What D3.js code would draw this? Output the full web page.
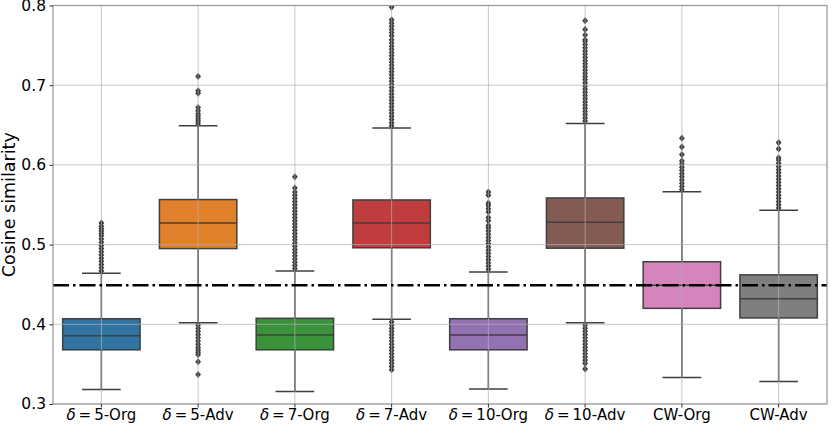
<!DOCTYPE html>
<html lang="en">
  <head>
    <meta charset="UTF-8" />
    <title>Cosine similarity boxplot</title>
    <style>
      body { margin: 0; background: #fff; }
      text { font-family: "DejaVu Sans", sans-serif; }
    </style>
  </head>
  <body>
    <svg width="831" height="427"></svg>

    <script src="https://d3js.org/d3.v7.min.js"></script>
    <script>
      // categories and box statistics
      var categories = ["d5org", "d5adv", "d7org", "d7adv", "d10org", "d10adv", "cworg", "cwadv"];
      var labelDelta = ["5-Org", "5-Adv", "7-Org", "7-Adv", "10-Org", "10-Adv", null, null];
      var labelPlain = [null, null, null, null, null, null, "CW-Org", "CW-Adv"];
      var colors = ["#3274a1", "#e1812c", "#3a923a", "#c03d3e", "#9372b2", "#845b53", "#d684bd", "#7f7f7f"];

      var q1 = [0.368, 0.495, 0.368, 0.496, 0.368, 0.4955, 0.420, 0.408];
      var median = [0.3855, 0.527, 0.3865, 0.527, 0.3865, 0.528, 0.449, 0.432];
      var q3 = [0.407, 0.5565, 0.4075, 0.556, 0.407, 0.5585, 0.4785, 0.462];
      var whiskLo = [0.3183, 0.402, 0.3157, 0.4063, 0.3187, 0.402, 0.3333, 0.3283];
      var whiskHi = [0.464, 0.649, 0.4668, 0.6463, 0.4655, 0.652, 0.5662, 0.543];

      var outliers = [
        [0.467, 0.471, 0.475, 0.479, 0.483, 0.487, 0.491, 0.495, 0.499, 0.503, 0.507, 0.511,
         0.514, 0.517, 0.520, 0.523, 0.527],
        [0.652, 0.655, 0.658, 0.661, 0.664, 0.668, 0.672, 0.690, 0.693, 0.711,
         0.399, 0.395, 0.391, 0.387, 0.383, 0.379, 0.375, 0.371, 0.368, 0.365, 0.362, 0.353, 0.337],
        [0.470, 0.474, 0.478, 0.482, 0.486, 0.490, 0.494, 0.498, 0.502, 0.506, 0.510, 0.514,
         0.518, 0.522, 0.526, 0.530, 0.534, 0.538, 0.542, 0.546, 0.550, 0.554, 0.558, 0.562,
         0.566, 0.571, 0.585],
        [0.649, 0.653, 0.657, 0.661, 0.665, 0.669, 0.673, 0.677, 0.681, 0.685, 0.689, 0.693,
         0.697, 0.701, 0.705, 0.709, 0.713, 0.717, 0.721, 0.725, 0.729, 0.733, 0.737, 0.741,
         0.745, 0.749, 0.753, 0.757, 0.762, 0.766, 0.770, 0.774, 0.778, 0.782, 0.798,
         0.403, 0.399, 0.395, 0.391, 0.387, 0.383, 0.379, 0.375, 0.371, 0.367, 0.363, 0.359,
         0.355, 0.351, 0.347, 0.343],
        [0.469, 0.473, 0.477, 0.481, 0.485, 0.489, 0.493, 0.497, 0.501, 0.505, 0.509, 0.513,
         0.517, 0.521, 0.524, 0.530, 0.534, 0.541, 0.545, 0.549, 0.552, 0.562, 0.566],
        [0.655, 0.659, 0.663, 0.667, 0.671, 0.675, 0.679, 0.683, 0.687, 0.691, 0.695, 0.699,
         0.703, 0.707, 0.711, 0.715, 0.719, 0.723, 0.727, 0.731, 0.735, 0.739, 0.743, 0.747,
         0.751, 0.755, 0.757, 0.763, 0.770, 0.781,
         0.399, 0.395, 0.391, 0.387, 0.383, 0.379, 0.375, 0.371, 0.367, 0.363, 0.359, 0.355,
         0.351, 0.344],
        [0.569, 0.573, 0.577, 0.581, 0.585, 0.589, 0.593, 0.597, 0.601, 0.605, 0.613, 0.6225, 0.6335],
        [0.546, 0.550, 0.554, 0.558, 0.562, 0.566, 0.570, 0.574, 0.578, 0.582, 0.586, 0.590,
         0.594, 0.598, 0.602, 0.606, 0.609, 0.620, 0.628]
      ];

      var yTicks = [0.3, 0.4, 0.5, 0.6, 0.7, 0.8];
      var threshold = 0.449;

      var W = 831, H = 427;
      var margin = { top: 5.5, right: 4, bottom: 23, left: 53 };

      var svg = d3.select("svg");
      var g = svg.append("g").attr("transform", "translate(" + margin.left + "," + margin.top + ")");
      var iw = W - margin.left - margin.right;
      var ih = H - margin.top - margin.bottom;

      var x = d3.scaleBand().domain(categories).range([0, iw]);
      var y = d3.scaleLinear().domain([0.3, 0.8]).range([ih, 0]);

      var bw = x.bandwidth() * 0.8;
      var edge = "#3f3f3f";

      var data = categories.map(function (c, i) {
        return { key: c, i: i, q1: q1[i], med: median[i], q3: q3[i], lo: whiskLo[i], hi: whiskHi[i], out: outliers[i] };
      });

      g.append("clipPath").attr("id", "plotclip")
        .append("rect").attr("width", iw).attr("height", ih);

      var plot = g.append("g").attr("clip-path", "url(#plotclip)");

      var boxes = plot.selectAll(".box").data(data).enter().append("g").attr("class", "box")
        .attr("transform", function (d) { return "translate(" + (x(d.key) + x.bandwidth() / 2) + ",0)"; });

      // whiskers
      boxes.append("line").attr("x1", 0).attr("x2", 0)
        .attr("y1", function (d) { return y(d.q3); }).attr("y2", function (d) { return y(d.hi); })
        .attr("stroke", edge).attr("stroke-width", 1.5);
      boxes.append("line").attr("x1", 0).attr("x2", 0)
        .attr("y1", function (d) { return y(d.q1); }).attr("y2", function (d) { return y(d.lo); })
        .attr("stroke", edge).attr("stroke-width", 1.5);

      // box bodies
      boxes.append("rect")
        .attr("x", -bw / 2).attr("width", bw)
        .attr("y", function (d) { return y(d.q3); })
        .attr("height", function (d) { return y(d.q1) - y(d.q3); })
        .attr("fill", function (d) { return colors[d.i]; })
        .attr("stroke", edge).attr("stroke-width", 1.5);

      // grid drawn over the boxes
      var grid = plot.append("g").attr("class", "grid");
      grid.selectAll(".gy").data(yTicks).enter().append("line")
        .attr("x1", 0).attr("x2", iw)
        .attr("y1", function (d) { return y(d); }).attr("y2", function (d) { return y(d); })
        .attr("stroke", "#b0b0b0").attr("stroke-opacity", 0.7).attr("stroke-width", 1);
      grid.selectAll(".gx").data(categories).enter().append("line")
        .attr("y1", 0).attr("y2", ih)
        .attr("x1", function (d) { return x(d) + x.bandwidth() / 2; })
        .attr("x2", function (d) { return x(d) + x.bandwidth() / 2; })
        .attr("stroke", "#b0b0b0").attr("stroke-opacity", 0.7).attr("stroke-width", 1);

      // medians, caps
      boxes.append("line").attr("x1", -bw / 2).attr("x2", bw / 2)
        .attr("y1", function (d) { return y(d.med); }).attr("y2", function (d) { return y(d.med); })
        .attr("stroke", edge).attr("stroke-width", 1.5);
      boxes.append("line").attr("x1", -bw / 4).attr("x2", bw / 4)
        .attr("y1", function (d) { return y(d.hi); }).attr("y2", function (d) { return y(d.hi); })
        .attr("stroke", edge).attr("stroke-width", 1.5);
      boxes.append("line").attr("x1", -bw / 4).attr("x2", bw / 4)
        .attr("y1", function (d) { return y(d.lo); }).attr("y2", function (d) { return y(d.lo); })
        .attr("stroke", edge).attr("stroke-width", 1.5);

      // fliers as thin diamonds
      boxes.selectAll(".flier").data(function (d) { return d.out; }).enter().append("path")
        .attr("class", "flier")
        .attr("d", function (v) {
          var cy = y(v);
          return "M0," + (cy - 3.6) + "L2.9," + cy + "L0," + (cy + 3.6) + "L-2.9," + cy + "Z";
        })
        .attr("fill", "#3d3d3d");

      // threshold line
      g.append("line").attr("x1", 0).attr("x2", iw)
        .attr("y1", y(threshold)).attr("y2", y(threshold))
        .attr("stroke", "#000").attr("stroke-width", 2.5)
        .attr("stroke-dasharray", "16,4,2.5,4");

      // frame
      g.append("rect").attr("width", iw).attr("height", ih)
        .attr("fill", "none").attr("stroke", "#999").attr("stroke-width", 1.25);

      // y axis
      var yAxis = g.append("g").call(d3.axisLeft(y).tickValues(yTicks).tickFormat(d3.format(".1f")).tickSize(3.5).tickPadding(3.5));
      yAxis.attr("font-size", null).attr("font-family", null);
      yAxis.select(".domain").remove();
      yAxis.selectAll(".tick line").attr("stroke", "#333");
      yAxis.selectAll(".tick text").style("font-size", "15.5px").attr("fill", "#000");

      // x axis
      var xAxis = g.append("g").attr("transform", "translate(0," + ih + ")")
        .call(d3.axisBottom(x).tickSize(3.5).tickFormat(""));
      xAxis.select(".domain").remove();
      xAxis.selectAll(".tick line").attr("stroke", "#333");

      var xl = g.append("g").selectAll("text").data(data).enter().append("text")
        .attr("x", function (d) { return x(d.key) + x.bandwidth() / 2; })
        .attr("y", ih + 16)
        .attr("text-anchor", "middle")
        .style("font-size", "15px")
        .attr("fill", "#000");
      xl.each(function (d) {
        var t = d3.select(this);
        if (labelDelta[d.i]) {
          t.append("tspan").attr("font-style", "italic").text("\u03b4");
          t.append("tspan").text("\u2009=\u2009" + labelDelta[d.i]);
        } else {
          t.text(labelPlain[d.i]);
        }
      });

      // y label
      svg.append("text")
        .attr("transform", "translate(15," + (margin.top + ih / 2) + ") rotate(-90)")
        .attr("text-anchor", "middle")
        .style("font-size", "17.5px")
        .attr("fill", "#000")
        .text("Cosine similarity");
    </script>
  </body>
</html>
